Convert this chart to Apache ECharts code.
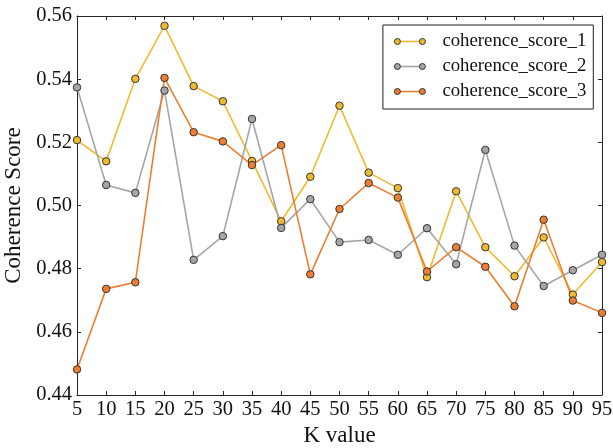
<!DOCTYPE html>
<html>
<head>
<meta charset="utf-8">
<script src="https://cdn.jsdelivr.net/npm/echarts@6/dist/echarts.min.js"></script>
<style>html,body{margin:0;padding:0;background:#fff}#c{width:613px;height:448px}</style>
</head>
<body>
<div id="c"></div>
<script>
const kValues = [5,10,15,20,25,30,35,40,45,50,55,60,65,70,75,80,85,90,95];
const score1 = [0.5207,0.5140,0.5401,0.5569,0.5378,0.5330,0.5141,0.4950,0.5091,0.5316,0.5104,0.5055,0.4773,0.5045,0.4868,0.4776,0.4899,0.4718,0.4821];
const score2 = [0.5374,0.5065,0.5040,0.5364,0.4828,0.4903,0.5274,0.4929,0.5020,0.4884,0.4891,0.4844,0.4928,0.4814,0.5176,0.4873,0.4745,0.4795,0.4844];
const score3 = [0.4481,0.4736,0.4757,0.5404,0.5232,0.5203,0.5128,0.5191,0.4782,0.4989,0.5071,0.5025,0.4791,0.4868,0.4806,0.4681,0.4955,0.4699,0.4660];
const seriesNames = ['coherence_score_1','coherence_score_2','coherence_score_3'];
const colors = ['#EEBA30','#A5A5A5','#ED7D31'];
const yTicks = {min:0.44, max:0.56, interval:0.02};

const font = 'Liberation Serif, Times New Roman, serif';
const axisLineStyle = {color:'#262626', width:1};
const chart = echarts.init(document.getElementById('c'));
const dataSets = [score1, score2, score3];
const series = dataSets.map((d,i)=>({
  name: seriesNames[i], type:'line', data:d,
  symbol:'circle', symbolSize:7.5,
  lineStyle:{color:colors[i], width:1.6},
  itemStyle:{color:colors[i], borderColor:'#333', borderWidth:1},
  emphasis:{disabled:true}, animation:false
}));
const circlesIcon = 'path://M0,3 A3,3 0 1,0 6,3 A3,3 0 1,0 0,3 Z M25,3 A3,3 0 1,0 31,3 A3,3 0 1,0 25,3 Z';
const legendFont = 18.8;
const legendCommon = {data:seriesNames, orient:'vertical', right:19.7, top:25, itemWidth:31, itemGap:6,
  padding:[7,7,8,11], selectedMode:false};
const xBase = {type:'category', data:kValues, boundaryGap:false,
  axisLine:{show:true, lineStyle:axisLineStyle}, axisTick:{show:true, inside:true, length:4, lineStyle:axisLineStyle},
  splitLine:{show:false}};
const yBase = {type:'value', min:yTicks.min, max:yTicks.max, interval:yTicks.interval,
  axisLine:{show:true, lineStyle:axisLineStyle}, axisTick:{show:true, inside:true, length:4, lineStyle:axisLineStyle},
  splitLine:{show:false}};
chart.setOption({
  animation:false,
  grid:{left:77, right:11, top:16, bottom:53, containLabel:false, outerBoundsMode:'none'},
  legend:[
    Object.assign({}, legendCommon, {itemHeight:1.6, icon:'rect', itemStyle:{borderWidth:0},
     textStyle:{color:'rgba(0,0,0,0)', fontFamily:font, fontSize:legendFont, padding:[0,0,0,12]}, z:3}),
    Object.assign({}, legendCommon, {itemHeight:6, icon:circlesIcon, itemStyle:{borderColor:'#333', borderWidth:1},
     borderColor:'#222', borderWidth:1,
     textStyle:{color:'#111', fontFamily:font, fontSize:legendFont, padding:[0,0,0,12]}, z:4})
  ],
  xAxis:[
    Object.assign({}, xBase, {position:'bottom', name:'K value', nameLocation:'middle', nameGap:29,
      nameTextStyle:{fontFamily:font, fontSize:23, color:'#111'},
      axisLabel:{fontFamily:font, fontSize:20.5, color:'#111', margin:4, interval:0}}),
    Object.assign({}, xBase, {position:'top', axisLabel:{show:false}})
  ],
  yAxis:[
    Object.assign({}, yBase, {position:'left', name:'Coherence Score', nameLocation:'middle', nameGap:49,
      nameTextStyle:{fontFamily:font, fontSize:23, color:'#111'},
      axisLabel:{fontFamily:font, fontSize:20.5, color:'#111', margin:5, formatter:v=>v.toFixed(2)}}),
    Object.assign({}, yBase, {position:'right', axisLabel:{show:false}})
  ],
  series: series
});
</script>
</body>
</html>
